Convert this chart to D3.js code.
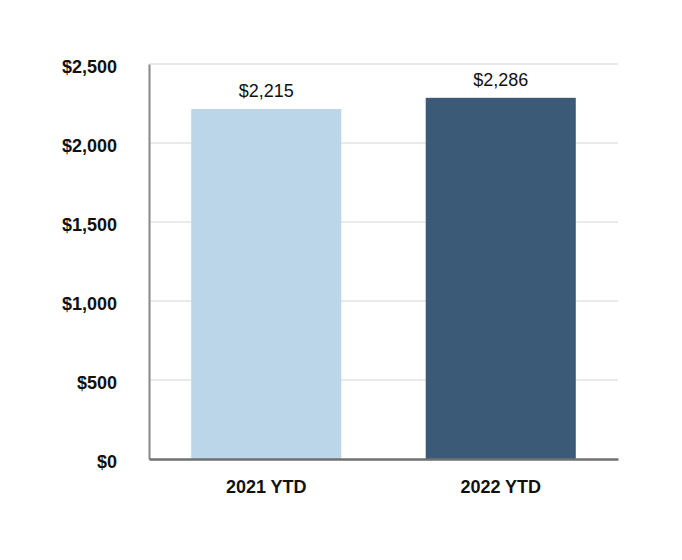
<!DOCTYPE html>
<html>
<head>
<meta charset="utf-8">
<script src="https://cdn.jsdelivr.net/npm/d3@7"></script>
<style>
body { margin: 0; background: #fff; }
svg { display: block; font-family: "Liberation Sans", Arial, sans-serif; }
</style>
</head>
<body>
<svg id="chart" width="682" height="560"></svg>
<script>
const categories = ["2021 YTD", "2022 YTD"];
const values = [2215, 2286];
const valueLabels = ["$2,215", "$2,286"];
const tickValues = [0, 500, 1000, 1500, 2000, 2500];
const tickLabels = ["$0", "$500", "$1,000", "$1,500", "$2,000", "$2,500"];
const colors = ["#bbd6e9", "#3b5a77"];

const svg = d3.select("#chart");
const pLeft = 149, pRight = 618, pTop = 64, pBottom = 459;

const x = d3.scaleBand().domain(categories).range([pLeft, pRight])
  .paddingInner(0.36).paddingOuter(0.18);
const y = d3.scaleLinear().domain([0, 2500]).range([pBottom, pTop]);

// gridlines
svg.append("g").selectAll("line").data(tickValues.filter(d => d > 0)).join("line")
  .attr("x1", pLeft).attr("x2", pRight)
  .attr("y1", d => y(d)).attr("y2", d => y(d))
  .attr("stroke", "#e3e3e3").attr("stroke-width", 1.5);

// bars
svg.append("g").selectAll("rect").data(categories).join("rect")
  .attr("x", d => x(d)).attr("width", x.bandwidth())
  .attr("y", (d, i) => y(values[i]))
  .attr("height", (d, i) => pBottom - y(values[i]))
  .attr("fill", (d, i) => colors[i]);

// value labels
svg.append("g").selectAll("text").data(categories).join("text")
  .attr("x", d => x(d) + x.bandwidth() / 2)
  .attr("y", (d, i) => y(values[i]) - 12)
  .attr("text-anchor", "middle")
  .attr("font-size", 18).attr("fill", "#111")
  .text((d, i) => valueLabels[i]);

// y axis
const yAxis = d3.axisLeft(y).tickValues(tickValues)
  .tickFormat((d, i) => tickLabels[i]).tickSize(0).tickPadding(32);
const gy = svg.append("g").attr("transform", `translate(${pLeft},0)`).call(yAxis);
gy.select(".domain").attr("stroke", "#888").attr("stroke-width", 2);
gy.selectAll("text").attr("font-size", 18).attr("font-weight", "bold")
  .attr("fill", "#111").attr("font-family", "Liberation Sans, Arial, sans-serif")
  .attr("dy", "0.45em");

// x axis
const xAxis = d3.axisBottom(x).tickSize(0).tickPadding(21);
const gx = svg.append("g").attr("transform", `translate(0,${pBottom})`).call(xAxis);
gx.select(".domain").attr("stroke", "#707070").attr("stroke-width", 2.5);
gx.selectAll("text").attr("font-size", 18).attr("font-weight", "bold")
  .attr("fill", "#111").attr("font-family", "Liberation Sans, Arial, sans-serif");
</script>
</body>
</html>
